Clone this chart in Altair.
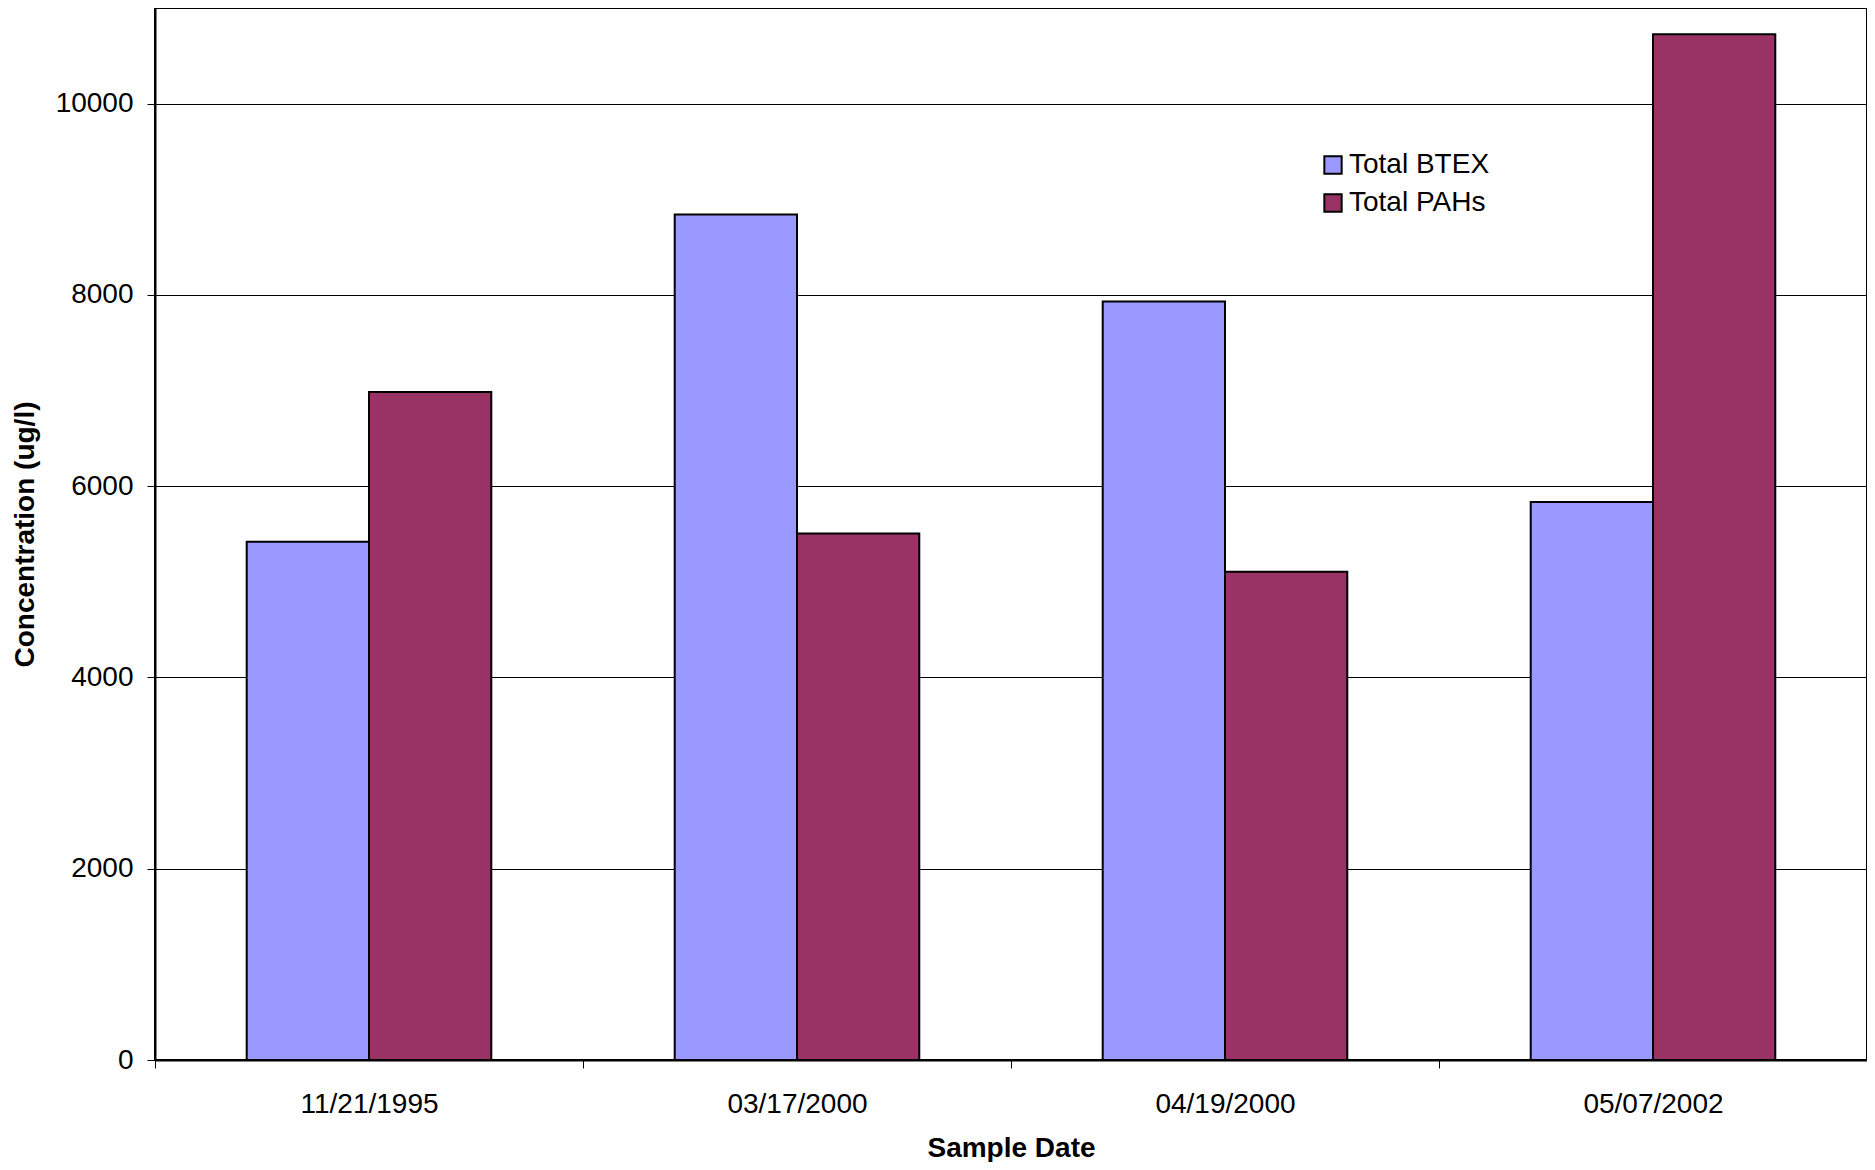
import altair as alt
import pandas as pd

dates = ["11/21/1995", "03/17/2000", "04/19/2000", "05/07/2002"]
btex = [5420, 8840, 7930, 5835]
pahs = [6985, 5505, 5105, 10725]
series = ["Total BTEX", "Total PAHs"]
colors = ["#9999FF", "#993366"]
y_ticks = [0, 2000, 4000, 6000, 8000, 10000]

rows = []
for d, b, p in zip(dates, btex, pahs):
    rows.append({"date": d, "series": series[0], "value": b})
    rows.append({"date": d, "series": series[1], "value": p})
df = pd.DataFrame(rows)

FONT = "Liberation Sans"

chart = alt.Chart(df).mark_bar(stroke="black", strokeWidth=2).encode(
    x=alt.X(
        "date:N", sort=dates, title="Sample Date",
        scale=alt.Scale(paddingInner=0, paddingOuter=0),
        axis=alt.Axis(
            labelAngle=0, tickBand="extent", tickSize=8, tickColor="black",
            tickWidth=1, labelPadding=22, labelFontSize=28, labelFont=FONT,
            labelColor="black", titleFont=FONT, titleFontSize=28,
            titleFontWeight="bold", titleColor="black", titlePadding=16,
            domainColor="black", domainWidth=2, grid=False,
        ),
    ),
    xOffset=alt.XOffset(
        "series:N", sort=series,
        scale=alt.Scale(paddingInner=0, paddingOuter=0.75),
    ),
    y=alt.Y(
        "value:Q", title="Concentration (ug/l)",
        scale=alt.Scale(domain=[0, 11000], nice=False),
        axis=alt.Axis(
            values=y_ticks, format="d", grid=True, gridColor="black",
            gridWidth=1, gridOpacity=1, tickSize=8, tickColor="black",
            tickWidth=1, labelPadding=14, labelFontSize=28, labelFont=FONT,
            labelColor="black", titleFont=FONT, titleFontSize=28,
            titleFontWeight="bold", titleColor="black", titlePadding=16,
            domainColor="black", domainWidth=2,
        ),
    ),
    color=alt.Color(
        "series:N", sort=series,
        scale=alt.Scale(domain=series, range=colors),
        legend=alt.Legend(
            orient="none", legendX=1164, legendY=143, title=None,
            symbolType="square", symbolSize=300, symbolStrokeColor="black",
            symbolStrokeWidth=2, symbolOpacity=1, labelFontSize=28,
            labelFont=FONT, labelColor="black", labelOffset=2,
            rowPadding=10, padding=0,
        ),
    ),
).properties(
    width=1712,
    height=1052,
    autosize=alt.AutoSizeParams(type="none"),
    padding={"left": 147, "top": 0, "right": 0, "bottom": 102},
).configure_view(
    stroke="black", strokeWidth=2
)

chart.save("out.html", embed_options={"renderer": "svg", "actions": False})
